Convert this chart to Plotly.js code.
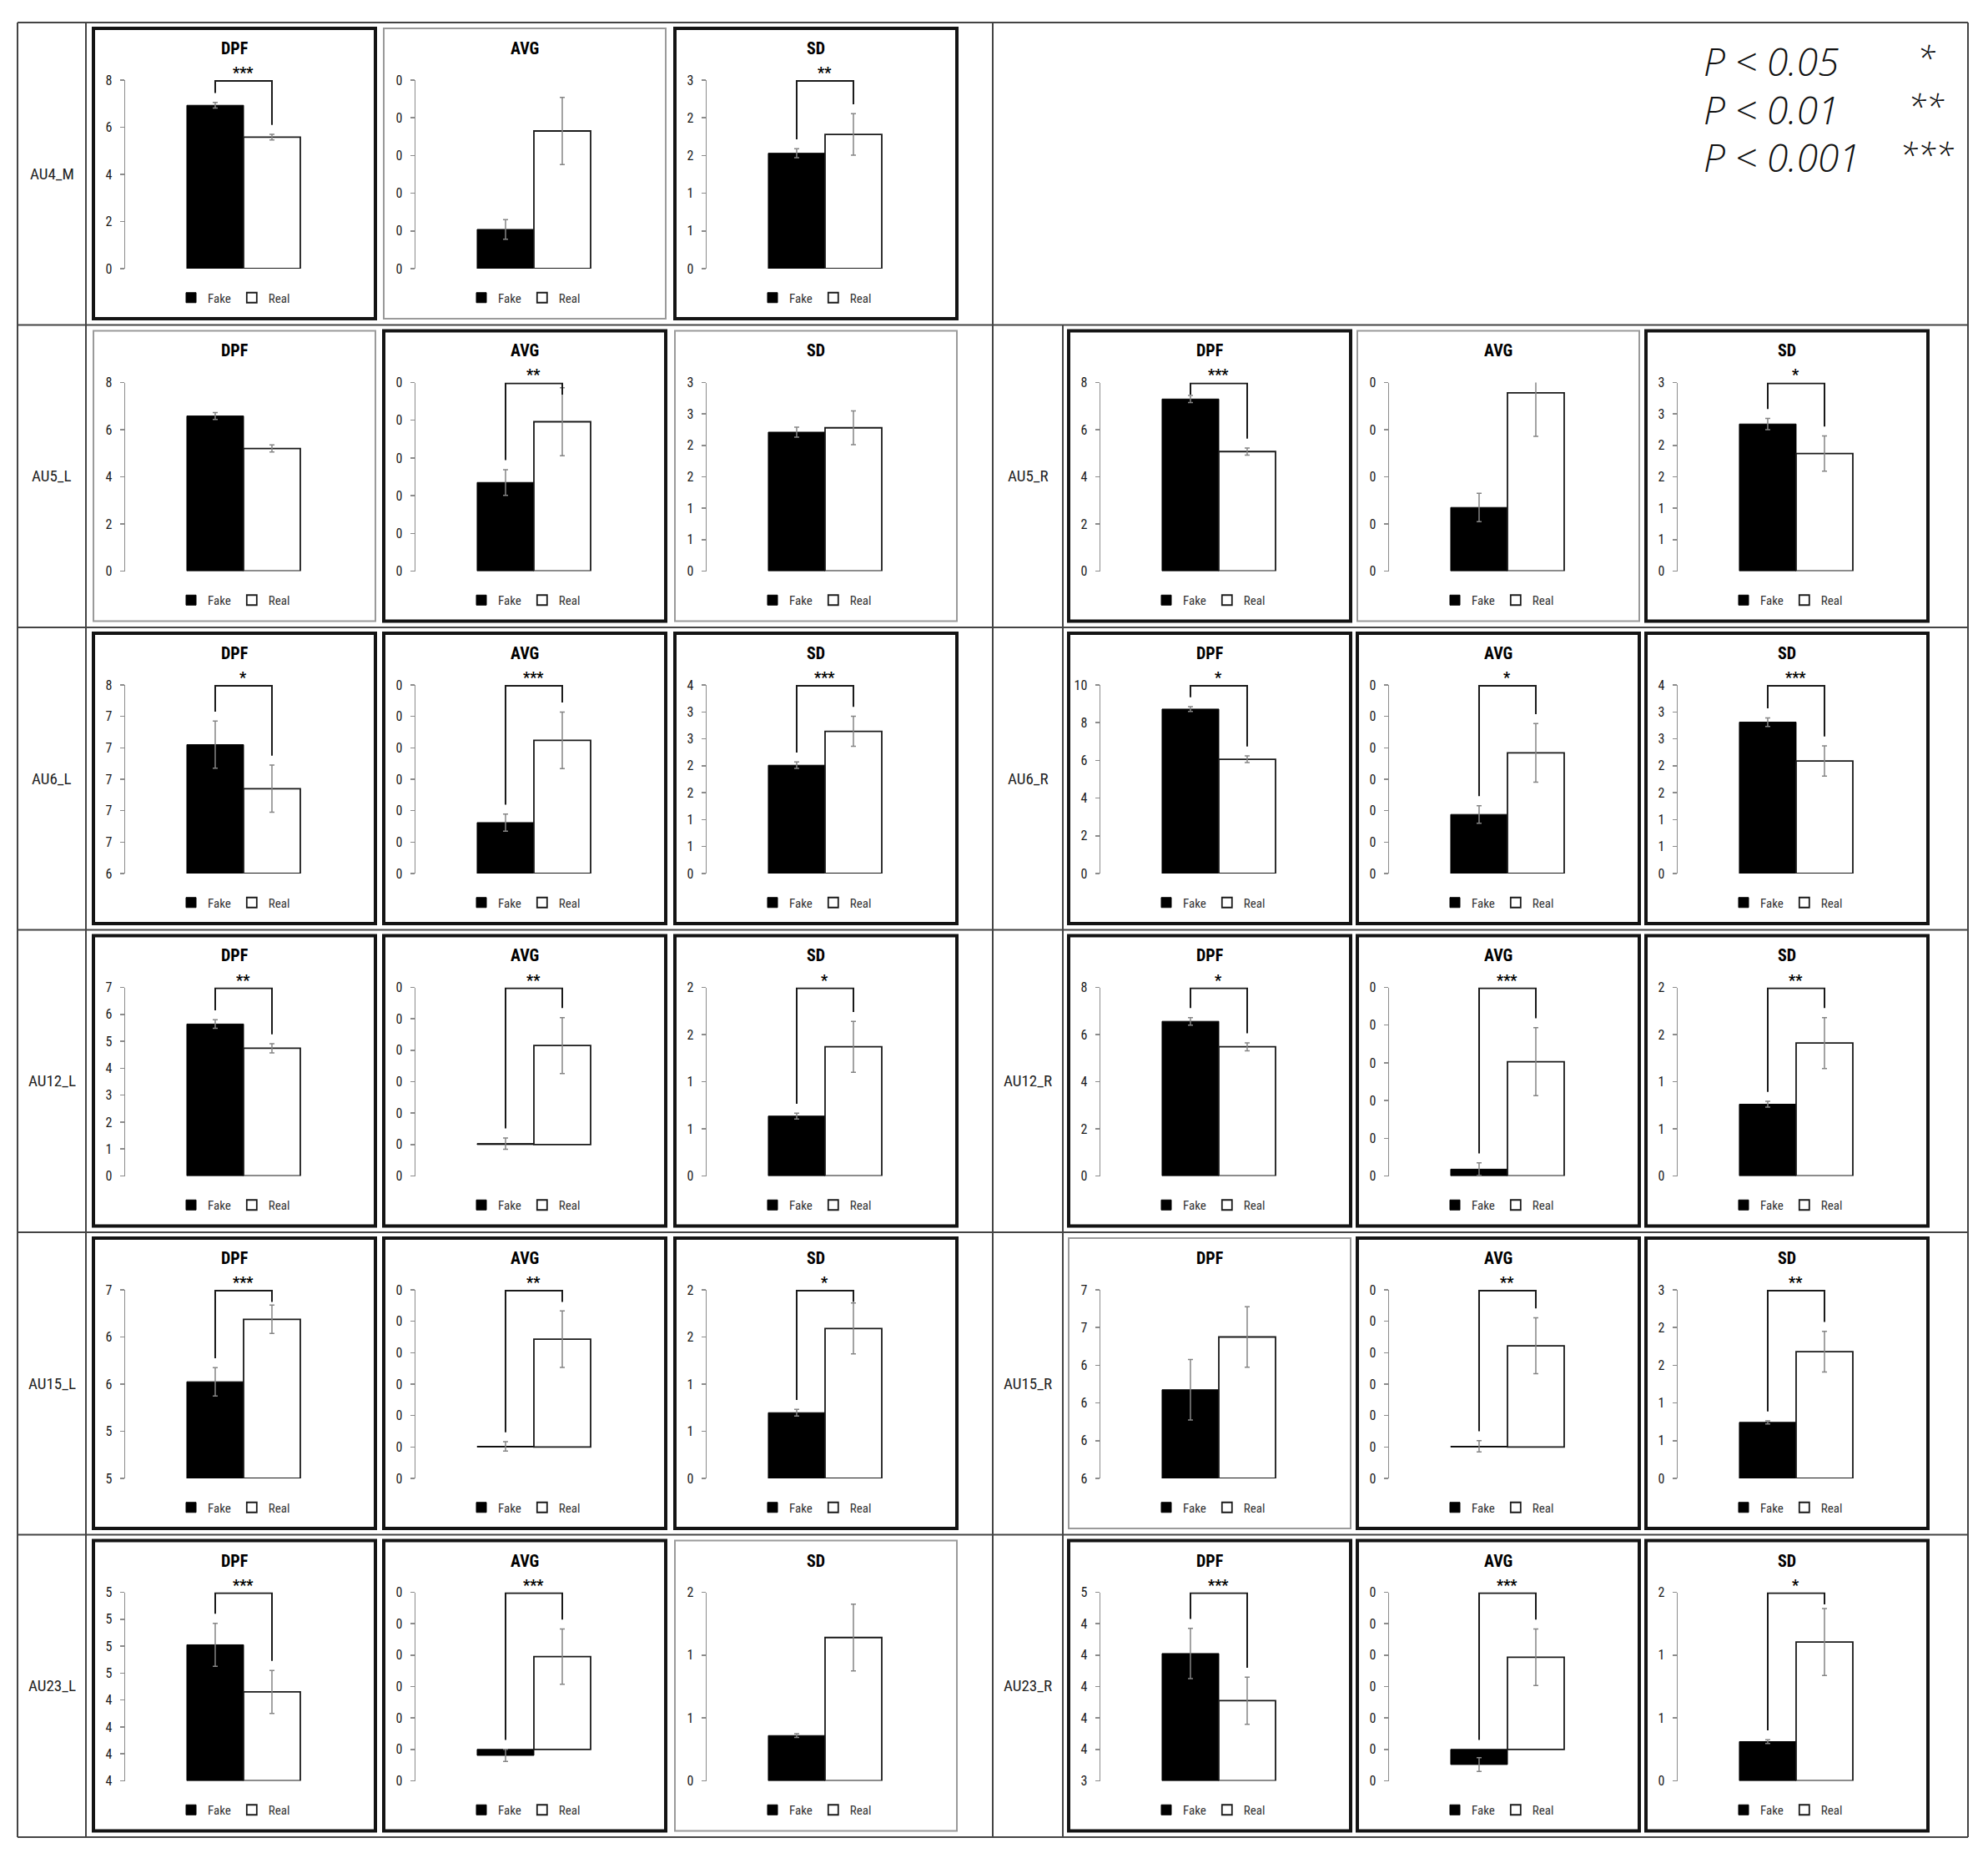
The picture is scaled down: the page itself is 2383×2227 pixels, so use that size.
<!DOCTYPE html>
<html>
<head>
<meta charset="utf-8">
<script src="https://cdn.plot.ly/plotly-3.0.1.min.js"></script>
<style>
html, body { margin: 0; padding: 0; background: #fff; }
#chart { width: 2383px; height: 2227px; }
</style>
</head>
<body>
<div id="chart"></div>
<script>
// action units, one table cell each (row from the AU number, side from _L/_R)
var units = ['AU4_M', 'AU5_L', 'AU5_R', 'AU6_L', 'AU6_R', 'AU12_L', 'AU12_R', 'AU15_L', 'AU15_R', 'AU23_L', 'AU23_R'];
var metrics = ['DPF', 'AVG', 'SD'];
var series = ['Fake', 'Real'];

// DPF
var dpfFake    = [6.93, 6.58, 7.30, 7.22, 8.72, 5.64, 6.56, 5.82, 6.27, 4.81, 4.21];
var dpfFakeErr = [0.12, 0.15, 0.15, 0.15, 0.13, 0.16, 0.16, 0.12, 0.16, 0.16, 0.16];
var dpfReal    = [5.58, 5.20, 5.07, 6.94, 6.06, 4.74, 5.48, 6.35, 6.55, 4.46, 3.91];
var dpfRealErr = [0.12, 0.15, 0.15, 0.15, 0.18, 0.17, 0.17, 0.12, 0.16, 0.16, 0.15];
var dpfStars   = [3, 0, 3, 1, 1, 2, 1, 3, 0, 3, 3];
// [min, max, step] of the value axis; labels are the ticks rounded to 0 decimals
var dpfAxis = [[0, 8, 2], [0, 8, 2], [0, 8, 2], [6.4, 7.6, 0.2], [0, 10, 2], [0, 7, 1],
               [0, 8, 2], [5.0, 6.6, 0.4], [5.8, 6.8, 0.2], [3.8, 5.2, 0.2], [3.4, 4.6, 0.2]];

// AVG
var avgFake    = [0.0104, 0.0235, 0.0135, 0.0162, 0.0188, 0.0003, 0.0018, 0.0002, 0.0002, -0.0019, -0.0048];
var avgFakeErr = [0.0026, 0.0034, 0.0030, 0.0027, 0.0028, 0.0018, 0.0017, 0.0015, 0.0018, 0.0019, 0.0022];
var avgReal    = [0.0365, 0.0396, 0.0378, 0.0424, 0.0384, 0.0315, 0.0303, 0.0343, 0.0322, 0.0295, 0.0293];
var avgRealErr = [0.0089, 0.0090, 0.0092, 0.0090, 0.0093, 0.0089, 0.0090, 0.0090, 0.0089, 0.0088, 0.0090];
var avgStars   = [0, 2, 0, 3, 1, 2, 3, 2, 2, 3, 3];
var avgAxis = [[0, 0.05, 0.01], [0, 0.05, 0.01], [0, 0.04, 0.01], [0, 0.06, 0.01], [0, 0.06, 0.01],
               [-0.01, 0.05, 0.01], [0, 0.05, 0.01], [-0.01, 0.05, 0.01], [-0.01, 0.05, 0.01],
               [-0.01, 0.05, 0.01], [-0.01, 0.05, 0.01]];

// SD
var sdFake    = [1.53, 2.21, 2.34, 2.01, 2.81, 0.635, 0.761, 0.697, 0.743, 0.36, 0.312];
var sdFakeErr = [0.06, 0.08, 0.09, 0.06, 0.08, 0.03, 0.03, 0.035, 0.02, 0.015, 0.015];
var sdReal    = [1.78, 2.28, 1.87, 2.64, 2.09, 1.37, 1.41, 1.59, 1.68, 1.14, 1.104];
var sdRealErr = [0.275, 0.27, 0.28, 0.28, 0.28, 0.27, 0.27, 0.27, 0.27, 0.265, 0.266];
var sdStars   = [2, 0, 1, 3, 3, 1, 2, 1, 2, 0, 1];
var sdAxis = [[0, 2.5, 0.5], [0, 3, 0.5], [0, 3, 0.5], [0, 3.5, 0.5], [0, 3.5, 0.5], [0, 2, 0.5],
              [0, 2, 0.5], [0, 2, 0.5], [0, 2.5, 0.5], [0, 1.5, 0.5], [0, 1.5, 0.5]];

// significance key
var keyText  = ['P &lt; 0.05', 'P &lt; 0.01', 'P &lt; 0.001'];
var keyStars = ['*', '**', '***'];

var metricData = {
    DPF: {fake: dpfFake, fakeErr: dpfFakeErr, real: dpfReal, realErr: dpfRealErr, stars: dpfStars, axis: dpfAxis},
    AVG: {fake: avgFake, fakeErr: avgFakeErr, real: avgReal, realErr: avgRealErr, stars: avgStars, axis: avgAxis},
    SD:  {fake: sdFake,  fakeErr: sdFakeErr,  real: sdReal,  realErr: sdRealErr,  stars: sdStars,  axis: sdAxis}
};

// page geometry (pixels)
var W = 2383, H = 2227;
var FONT = '"Liberation Sans Narrow", "Roboto Condensed", Roboto, sans-serif';
var rowOrder = ['AU4', 'AU5', 'AU6', 'AU12', 'AU15', 'AU23'];
var tableL = 21, tableR = 2359, tableT = 27, rowH = 362.5;
var col1 = 103, midX = 1190, col2 = 1274;
var panelLefts = [[112, 460, 809], [1281, 1627, 1973]];
var panelW = 338, panelH = 348;

function px(v) { return v / W; }
function py(v) { return 1 - v / H; }

function ticksFor(ax) {
    var vals = [], text = [];
    var n = Math.round((ax[1] - ax[0]) / ax[2]);
    for (var i = 0; i <= n; i++) {
        var v = +(ax[0] + i * ax[2]).toFixed(6);
        vals.push(v);
        text.push(String(Math.round(v) || 0));
    }
    return {vals: vals, text: text};
}

var traces = [];
var shapes = [];
var annotations = [];
var layout = {
    width: W, height: H,
    margin: {l: 0, r: 0, t: 0, b: 0},
    paper_bgcolor: '#fff', plot_bgcolor: 'rgba(0,0,0,0)',
    barmode: 'overlay',
    hovermode: false,
    font: {family: FONT, color: '#1a1a1a'}
};

var k = 0;
units.forEach(function(u, ui) {
    var parts = u.split('_');
    var row = rowOrder.indexOf(parts[0]);
    var side = parts[1] === 'R' ? 1 : 0;
    var rowTop = tableT + rowH * row;

    annotations.push({
        text: u, xref: 'paper', yref: 'paper',
        x: px(side ? (midX + col2) / 2 : (tableL + col1) / 2), y: py(rowTop + rowH / 2),
        xanchor: 'center', yanchor: 'middle', showarrow: false,
        font: {size: 19, color: '#222', family: FONT}
    });

    metrics.forEach(function(m, mi) {
        k++;
        var d = metricData[m];
        var ax = d.axis[ui];
        var stars = d.stars[ui];
        var left = panelLefts[side][mi];
        var top = rowTop + 7;
        var sfx = k === 1 ? '' : String(k);
        var xr = 'x' + sfx, yr = 'y' + sfx, lg = 'legend' + sfx;
        var t = ticksFor(ax);
        var span = ax[1] - ax[0];
        // bars rise from the axis floor when it is above zero (as in the source sheet)
        var base = ax[0] > 0 ? ax[0] : 0;

        layout['xaxis' + sfx] = {
            domain: [px(left + 38), px(left + 290)], anchor: yr,
            range: [-1.588, 2.118], showline: false, showticklabels: false,
            ticks: '', showgrid: false, zeroline: false, fixedrange: true
        };
        layout['yaxis' + sfx] = {
            domain: [py(top + 288), py(top + 62)], anchor: xr,
            range: [ax[0], ax[1]], tickmode: 'array', tickvals: t.vals, ticktext: t.text,
            showline: true, linecolor: '#8c8c8c', linewidth: 1.5,
            ticks: 'outside', ticklen: 5, tickwidth: 1.5, tickcolor: '#8c8c8c',
            ticklabelstandoff: 6,
            tickfont: {size: 16, color: '#1a1a1a', family: FONT},
            showgrid: false, zeroline: false, fixedrange: true
        };
        layout[lg] = {
            x: px(left + panelW / 2), y: py(top + 323), xref: 'paper', yref: 'paper',
            xanchor: 'center', yanchor: 'middle', orientation: 'h',
            bgcolor: 'rgba(0,0,0,0)', borderwidth: 0, itemwidth: 30,
            traceorder: 'normal', font: {size: 15, color: '#333', family: FONT}
        };

        var vals = [d.fake[ui], d.real[ui]];
        var errs = [d.fakeErr[ui], d.realErr[ui]];
        series.forEach(function(s, si) {
            traces.push({
                type: 'bar', name: s, x: [si], y: [vals[si] - base], base: base, width: 1,
                xaxis: xr, yaxis: yr, legend: lg, showlegend: true,
                marker: si === 0
                    ? {color: '#000', line: {color: '#000', width: 1}}
                    : {color: '#fff', line: {color: '#1a1a1a', width: 1.8}},
                error_y: {type: 'data', array: [errs[si]], visible: true,
                          color: '#858585', thickness: 1.5, width: 3}
            });
        });

        // significance bracket over the two bars
        if (stars > 0) {
            var yTop = ax[1] - 0.004 * span;
            var yL = Math.min(Math.max(vals[0] + errs[0], vals[0], 0) + 0.05 * span, yTop - 0.06 * span);
            var yR = Math.min(Math.max(vals[1] + errs[1], vals[1], 0) + 0.05 * span, yTop - 0.06 * span);
            shapes.push({
                type: 'path', xref: xr, yref: yr,
                path: 'M 0,' + yL + ' L 0,' + yTop + ' L 1,' + yTop + ' L 1,' + yR,
                line: {color: '#1a1a1a', width: 2}
            });
            annotations.push({
                text: '<b>' + '*'.repeat(stars) + '</b>', xref: xr, yref: yr,
                x: 0.5, y: ax[1], xanchor: 'center', yanchor: 'bottom', yshift: -3,
                showarrow: false, font: {size: 18, color: '#000', family: FONT}
            });
        }

        annotations.push({
            text: '<b>' + m + '</b>', xref: 'paper', yref: 'paper',
            x: px(left + panelW / 2), y: py(top + 24), xanchor: 'center', yanchor: 'middle',
            showarrow: false, font: {size: 20, color: '#000', family: FONT}
        });

        // panel frame: heavy when the difference is significant
        shapes.push({
            type: 'rect', xref: 'paper', yref: 'paper',
            x0: px(left), x1: px(left + panelW), y0: py(top + panelH), y1: py(top),
            line: stars > 0 ? {color: '#141414', width: 4} : {color: '#9a9a9a', width: 2}
        });
    });
});

// table grid
function hline(y, x0, x1) {
    shapes.push({type: 'line', xref: 'paper', yref: 'paper', x0: px(x0), x1: px(x1), y0: py(y), y1: py(y),
                 line: {color: '#444', width: 2}});
}
function vline(x, y0, y1) {
    shapes.push({type: 'line', xref: 'paper', yref: 'paper', x0: px(x), x1: px(x), y0: py(y0), y1: py(y1),
                 line: {color: '#444', width: 2}});
}
var tableB = tableT + rowH * rowOrder.length;
for (var r = 0; r <= rowOrder.length; r++) hline(tableT + rowH * r, tableL, tableR);
vline(tableL, tableT, tableB);
vline(tableR, tableT, tableB);
vline(col1, tableT, tableB);
vline(midX, tableT, tableB);
vline(col2, tableT + rowH, tableB);

// significance key, top right
var keyY = [73, 131, 188];
keyText.forEach(function(txt, i) {
    annotations.push({
        text: txt, xref: 'paper', yref: 'paper', x: px(2040), y: py(keyY[i]),
        xanchor: 'left', yanchor: 'middle', showarrow: false,
        font: {size: 46, color: '#111', family: '"Open Sans", sans-serif', style: 'italic', weight: 300}
    });
    annotations.push({
        text: keyStars[i], xref: 'paper', yref: 'paper', x: px(2309), y: py(keyY[i] - 4),
        xanchor: 'center', yanchor: 'middle', showarrow: false,
        font: {size: 40, color: '#111', family: '"Open Sans", sans-serif', style: 'italic', weight: 300}
    });
});

layout.shapes = shapes;
layout.annotations = annotations;

Plotly.newPlot('chart', traces, layout, {displayModeBar: false, staticPlot: true});
</script>
</body>
</html>
